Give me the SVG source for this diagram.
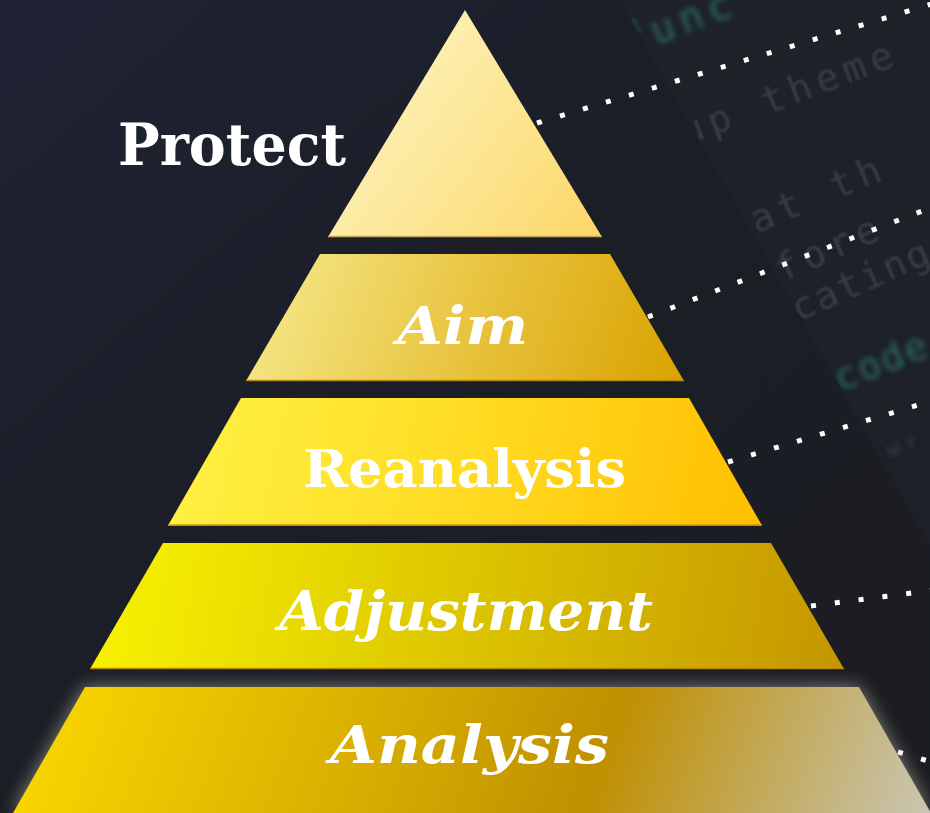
<svg xmlns="http://www.w3.org/2000/svg" width="930" height="813" viewBox="0 0 930 813">
  <defs>
    <linearGradient id="bg" x1="0" y1="0" x2="1" y2="1">
      <stop offset="0" stop-color="#1f2334"/>
      <stop offset="0.45" stop-color="#1b1e26"/>
      <stop offset="1" stop-color="#1b1d22"/>
    </linearGradient>
    <linearGradient id="panel" x1="0" y1="0" x2="1" y2="1">
      <stop offset="0" stop-color="#20232a"/>
      <stop offset="1" stop-color="#1d2026"/>
    </linearGradient>
    <linearGradient id="g1" gradientUnits="userSpaceOnUse" x1="360" y1="60" x2="600" y2="240">
      <stop offset="0" stop-color="#fdf3bd"/>
      <stop offset="1" stop-color="#fcd767"/>
    </linearGradient>
    <linearGradient id="g2" gradientUnits="userSpaceOnUse" x1="280" y1="250" x2="680" y2="390">
      <stop offset="0" stop-color="#f4e684"/>
      <stop offset="0.5" stop-color="#e8c23c"/>
      <stop offset="1" stop-color="#d9a200"/>
    </linearGradient>
    <linearGradient id="g3" gradientUnits="userSpaceOnUse" x1="180" y1="400" x2="760" y2="525">
      <stop offset="0" stop-color="#fef143"/>
      <stop offset="0.5" stop-color="#ffdb22"/>
      <stop offset="1" stop-color="#ffbe00"/>
    </linearGradient>
    <linearGradient id="g4" gradientUnits="userSpaceOnUse" x1="110" y1="545" x2="840" y2="670">
      <stop offset="0" stop-color="#f7f100"/>
      <stop offset="0.5" stop-color="#dcc400"/>
      <stop offset="1" stop-color="#c59600"/>
    </linearGradient>
    <linearGradient id="g5" gradientUnits="userSpaceOnUse" x1="90" y1="600" x2="900" y2="900">
      <stop offset="0" stop-color="#f8d400"/>
      <stop offset="0.4" stop-color="#d4aa00"/>
      <stop offset="0.62" stop-color="#c08f00"/>
      <stop offset="0.82" stop-color="#c3ac62"/>
      <stop offset="1" stop-color="#c9c6b4"/>
    </linearGradient>
    <filter id="glow" x="-10%" y="-30%" width="120%" height="160%">
      <feGaussianBlur stdDeviation="9"/>
    </filter>
    <filter id="soft" x="-20%" y="-50%" width="140%" height="200%">
      <feGaussianBlur stdDeviation="1"/>
    </filter>
    <filter id="blur3" x="-20%" y="-50%" width="140%" height="200%">
      <feGaussianBlur stdDeviation="2.5"/>
    </filter>
    <clipPath id="panelClip">
      <polygon points="620,0 930,0 930,545"/>
    </clipPath>
  </defs>
  <style>
    .code { font-family: "DejaVu Sans Mono", "Liberation Mono", monospace; font-size: 38px; letter-spacing: 6px; fill: #393d46; }
    .teal { fill: #2c6b69; }
    .lbl { font-family: "DejaVu Serif", "Liberation Serif", serif; font-weight: bold; fill: #ffffff; text-anchor: middle; }
    .it { font-style: italic; }
    .dot { fill: none; stroke: #ffffff; stroke-width: 5; stroke-dasharray: 5 19; }
    .edge { fill: none; stroke-width: 1.5; }
  </style>

  <rect width="930" height="813" fill="url(#bg)"/>

  <g id="code-panel" clip-path="url(#panelClip)">
    <rect width="930" height="813" fill="url(#panel)"/>
    <g filter="url(#soft)">
      <text class="code teal" transform="translate(628,56) rotate(-21)" filter="url(#blur3)" style="font-size:40px">func</text>
      <text class="code" transform="translate(686,146) rotate(-21)">up theme</text>
      <text class="code" transform="translate(730,245) rotate(-23)">hat th</text>
      <text class="code" transform="translate(782,283) rotate(-24)">fore</text>
      <text class="code" transform="translate(798,322) rotate(-24)" style="letter-spacing:2px">cating</text>
      <text class="code teal" transform="translate(840,392) rotate(-22)" filter="url(#blur3)" style="letter-spacing:2px">code</text>
      <text class="code" transform="translate(890,458) rotate(-22)" filter="url(#blur3)" style="font-size:22px">wr</text>
    </g>
  </g>

  <g id="connectors">
    <line class="dot" x1="537" y1="123" x2="935" y2="3"/>
    <line class="dot" x1="648" y1="317" x2="935" y2="206"/>
    <line class="dot" x1="728" y1="462" x2="935" y2="400"/>
    <line class="dot" x1="811" y1="606" x2="935" y2="590"/>
    <line class="dot" x1="898" y1="752" x2="935" y2="763"/>
  </g>

  <g id="tier-protect">
    <polygon points="465,10 602,237 328,237" fill="url(#g1)"/>
    <line class="edge" x1="328" y1="236.5" x2="602" y2="236.5" stroke="#c9a955"/>
    <text class="lbl" x="232" y="165" font-size="58" textLength="228" lengthAdjust="spacingAndGlyphs">Protect</text>
  </g>

  <g id="tier-aim">
    <polygon points="320,254 610,254 684,381 246,381" fill="url(#g2)"/>
    <line class="edge" x1="246" y1="380.5" x2="684" y2="380.5" stroke="#b98c10"/>
    <text class="lbl it" x="462.5" y="344" font-size="53" textLength="131" lengthAdjust="spacingAndGlyphs">Aim</text>
  </g>

  <g id="tier-reanalysis">
    <polygon points="241,398 689,398 762,525.5 168,525.5" fill="url(#g3)"/>
    <line class="edge" x1="168" y1="525" x2="762" y2="525" stroke="#d49400"/>
    <text class="lbl" x="464.5" y="487" font-size="53" textLength="323" lengthAdjust="spacingAndGlyphs">Reanalysis</text>
  </g>

  <g id="tier-adjustment">
    <polygon points="163,543 771,543 844,669 90,669" fill="url(#g4)"/>
    <line class="edge" x1="90" y1="668.5" x2="844" y2="668.5" stroke="#b88a00"/>
    <text class="lbl it" x="466" y="630" font-size="55" textLength="374" lengthAdjust="spacingAndGlyphs">Adjustment</text>
  </g>

  <g id="tier-analysis">
    <polygon points="85,687 859,687 931,813 13,813" fill="#d8d8c0" opacity="0.55" filter="url(#glow)"/>
    <polygon points="85,687 859,687 931,813 13,813" fill="url(#g5)"/>
    <text class="lbl it" x="469.5" y="763" font-size="53" textLength="279" lengthAdjust="spacingAndGlyphs">Analysis</text>
  </g>
</svg>
